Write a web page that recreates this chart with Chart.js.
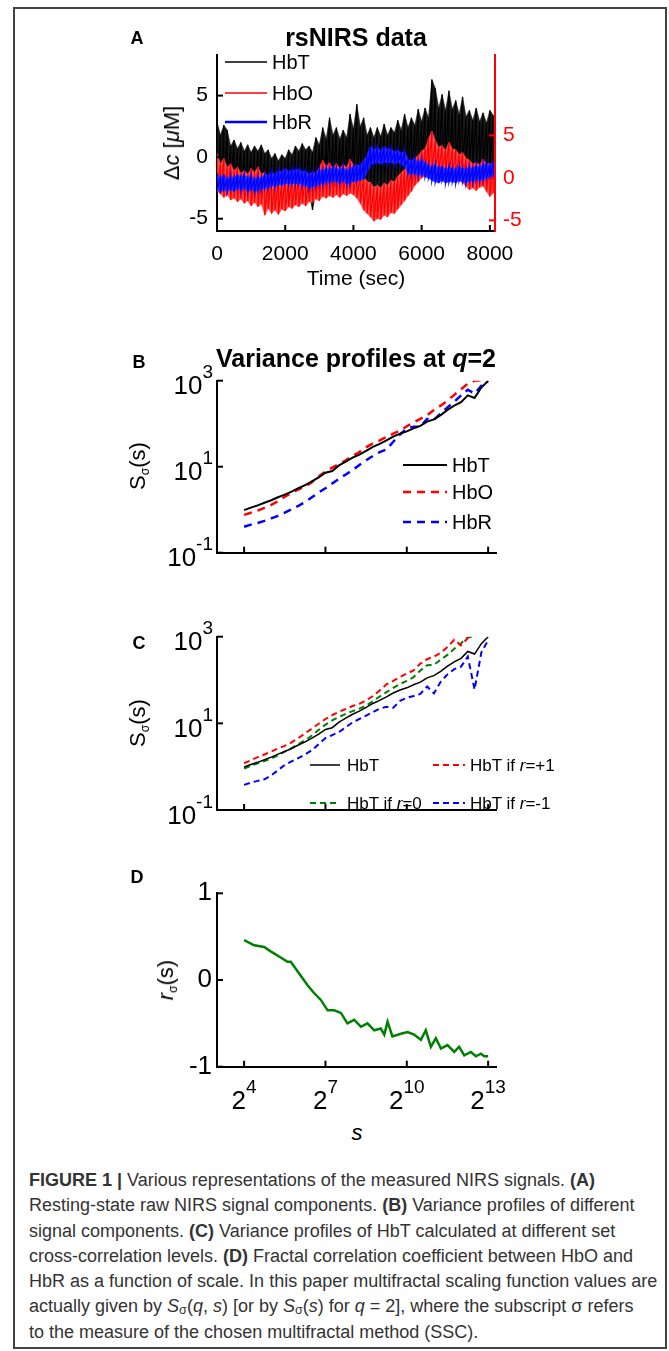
<!DOCTYPE html>
<html>
<head>
<meta charset="utf-8">
<script src="https://cdn.jsdelivr.net/npm/chart.js@4.4.1/dist/chart.umd.min.js"></script>
<style>
html, body { margin: 0; padding: 0; background: #fff; }
#page { position: relative; width: 669px; height: 1351px; overflow: hidden; font-family: "Liberation Sans", Arial, sans-serif; color: #000; }
#frame { position: absolute; left: 13px; top: 7px; width: 654px; height: 1342px; box-sizing: border-box; border: 2px solid #444; }
canvas { position: absolute; left: 0; }
.c, .l, .r { position: absolute; white-space: nowrap; line-height: 1; }
.c { transform: translate(-50%, -50%); }
.l { transform: translate(0, -50%); }
.r { transform: translate(-50%, -50%) rotate(-90deg); font-size: 22px; }
.b { font-weight: bold; }
sub { font-size: 55%; vertical-align: -0.3em; line-height: 0; }
#cap { position: absolute; left: 29px; top: 1168px; font-family: "Liberation Sans Narrow", "Liberation Sans", sans-serif; font-size: 18px; line-height: 25.3px; color: #333; white-space: nowrap; }
#cap sub { font-size: 70%; vertical-align: -0.15em; }
</style>
</head>
<body>
<div id="page">
  <div id="frame"></div>
  <canvas id="chartA"></canvas>
  <canvas id="chartB"></canvas>
  <canvas id="chartC"></canvas>
  <canvas id="chartD"></canvas>

  <div class="c b" style="left:137px;top:38px;font-size:18px">A</div>
  <div class="c b" style="left:356px;top:37px;font-size:25px">rsNIRS data</div>
  <div class="l" style="left:272px;top:62px;font-size:20px">HbT</div>
  <div class="l" style="left:272px;top:93px;font-size:20px">HbO</div>
  <div class="l" style="left:272px;top:122px;font-size:20px">HbR</div>
  <div class="r" style="left:172px;top:143px">Δ<i>c</i> [<i>μ</i>M]</div>
  <div class="c" style="left:356px;top:277px;font-size:21px">Time (sec)</div>

  <div class="c b" style="left:139px;top:362px;font-size:18px">B</div>
  <div class="c b" style="left:356px;top:358px;font-size:25px">Variance profiles at <i>q</i>=2</div>
  <div class="r" style="left:138px;top:466px">S<sub>σ</sub>(s)</div>
  <div class="l" style="left:452px;top:465px;font-size:20px">HbT</div>
  <div class="l" style="left:452px;top:492px;font-size:20px">HbO</div>
  <div class="l" style="left:452px;top:522px;font-size:20px">HbR</div>

  <div class="c b" style="left:139px;top:643px;font-size:18px">C</div>
  <div class="r" style="left:138px;top:723px">S<sub>σ</sub>(s)</div>
  <div class="l" style="left:347px;top:765px;font-size:17px">HbT</div>
  <div class="l" style="left:470px;top:765px;font-size:17px">HbT if <i>r</i>=+1</div>
  <div class="l" style="left:347px;top:803px;font-size:17px">HbT if <i>r</i>=0</div>
  <div class="l" style="left:470px;top:803px;font-size:17px">HbT if <i>r</i>=-1</div>

  <div class="c b" style="left:137px;top:877px;font-size:18px">D</div>
  <div class="r" style="left:166px;top:980px"><i>r</i><sub>σ</sub>(s)</div>
  <div class="c" style="left:357px;top:1133px;font-size:22px"><i>s</i></div>

  <div id="cap"><b>FIGURE 1 |</b> Various representations of the measured NIRS signals. <b>(A)</b><br>Resting-state raw NIRS signal components. <b>(B)</b> Variance profiles of different<br>signal components. <b>(C)</b> Variance profiles of HbT calculated at different set<br>cross-correlation levels. <b>(D)</b> Fractal correlation coefficient between HbO and<br>HbR as a function of scale. In this paper multifractal scaling function values are<br>actually given by <i>S</i><sub>σ</sub>(<i>q</i>, <i>s</i>) [or by <i>S</i><sub>σ</sub>(<i>s</i>) for <i>q</i> = 2], where the subscript σ refers<br>to the measure of the chosen multifractal method (SSC).</div>
</div>

<script>
// Panel A: raw signals, upper and lower edge of each noisy trace (100 s steps)
const timeSec = [0,100,200,300,400,500,600,700,800,900,
  1000,1100,1200,1300,1400,1500,1600,1700,1800,1900,
  2000,2100,2200,2300,2400,2500,2600,2700,2800,2900,
  3000,3100,3200,3300,3400,3500,3600,3700,3800,3900,
  4000,4100,4200,4300,4400,4500,4600,4700,4800,4900,
  5000,5100,5200,5300,5400,5500,5600,5700,5800,5900,
  6000,6100,6200,6300,6400,6500,6600,6700,6800,6900,
  7000,7100,7200,7300,7400,7500,7600,7700,7800,7900,
  8000,8100];

const hbtHi = [2.9,1.8,2.6,2.2,0.9,1.4,0.7,1.2,0.5,1.0,
  0.4,0.9,0.5,1.0,0.3,0.6,-0.1,0.3,-0.3,0.2,
  -0.1,0.6,0.2,0.9,0.5,1.1,0.6,0.9,0.4,1.6,
  1.0,2.4,1.5,3.2,1.8,2.4,1.5,2.2,1.6,3.5,
  2.3,4.3,2.5,3.2,1.8,2.4,1.6,2.4,1.7,2.7,
  1.8,2.4,2.0,3.0,2.2,3.5,2.4,3.2,2.6,3.9,
  2.9,4.0,3.2,6.3,5.6,4.0,5.1,3.8,5.4,3.9,
  4.6,3.5,4.9,3.3,3.8,3.0,4.0,2.9,3.6,2.8,
  3.8,3.4];
const hbtLo = [-2.4,-2.9,-2.5,-2.3,-2.8,-2.6,-2.9,-2.7,-3.0,-2.8,
  -3.1,-2.9,-3.3,-3.0,-3.5,-3.2,-3.6,-4.3,-3.5,-3.8,
  -3.4,-3.6,-3.2,-3.4,-3.1,-3.3,-2.9,-3.0,-4.3,-2.8,
  -2.7,-2.9,-2.5,-2.7,-2.4,-2.6,-2.3,-2.4,-2.1,-2.3,
  -2.0,-2.3,-2.1,-2.6,-2.2,-2.0,-2.8,-2.2,-2.7,-2.1,
  -2.3,-1.9,-2.2,-1.8,-2.0,-1.7,-1.6,-1.3,-1.1,-1.0,
  -1.0,-1.2,-0.9,-1.1,-1.0,-1.2,-0.9,-1.1,-1.0,-1.2,
  -0.9,-1.1,-1.0,-1.2,-0.9,-1.0,-1.1,-0.9,-1.0,-0.8,
  -0.9,-0.8];

// HbO is read on the red right-hand axis
const hboHi = [2.9,1.6,2.3,1.2,1.7,0.8,1.3,0.5,0.9,0.4,
  1.1,0.6,1.3,0.4,0.7,-0.1,0.2,-0.5,-0.2,-0.4,
  0.1,-0.3,0.2,-0.1,0.4,0.0,0.6,0.2,0.7,0.5,
  1.2,2.1,1.3,1.8,1.0,1.7,1.1,1.6,1.2,2.2,
  1.5,0.9,0.5,0.1,-0.4,-0.6,-1.1,-0.9,-1.2,-0.6,
  -0.9,-0.3,-0.5,0.2,0.6,1.0,1.4,1.9,2.3,2.6,
  3.2,3.4,4.6,5.5,4.4,3.6,3.8,3.2,4.2,3.4,
  3.3,2.7,3.0,2.3,2.1,1.6,1.8,1.5,2.2,1.6,
  1.7,1.3];
const hboLo = [-1.5,-1.9,-2.3,-2.0,-2.6,-2.4,-2.8,-2.5,-3.0,-2.7,
  -3.3,-2.9,-3.4,-3.1,-4.4,-3.6,-4.2,-3.8,-4.3,-3.7,
  -3.9,-3.4,-3.6,-3.2,-3.4,-3.0,-3.3,-2.8,-2.9,-2.5,
  -2.7,-2.2,-2.4,-2.1,-2.3,-2.0,-2.3,-1.9,-2.1,-1.8,
  -2.0,-2.4,-3.0,-3.8,-4.2,-4.6,-5.1,-4.8,-4.9,-4.4,
  -4.6,-4.1,-4.2,-3.7,-3.2,-2.7,-2.1,-1.6,-0.9,-0.5,
  0.0,0.2,0.5,0.7,0.9,0.7,1.0,0.6,0.5,0.3,
  0.1,-0.3,-0.6,-1.0,-1.4,-1.2,-1.5,-1.1,-1.0,-1.6,
  -2.2,-1.8];

const hbrHi = [-1.3,-1.7,-1.4,-1.8,-1.5,-1.7,-1.4,-1.6,-1.4,-1.7,
  -1.5,-1.8,-1.6,-1.7,-1.4,-1.5,-1.2,-1.4,-1.1,-1.2,
  -0.9,-1.2,-1.0,-1.1,-0.9,-1.2,-1.1,-1.4,-1.2,-1.3,
  -1.0,-1.1,-0.9,-1.0,-0.8,-0.9,-1.0,-0.8,-1.1,-0.9,
  -0.8,-0.6,-0.7,-0.3,0.2,0.9,0.6,0.8,0.5,0.9,
  0.6,0.7,0.4,0.6,0.3,0.5,-0.2,-0.3,-0.1,-0.4,
  -0.2,-0.5,-0.6,-0.8,-0.6,-0.9,-0.7,-1.0,-0.8,-0.9,
  -1.0,-0.8,-0.9,-1.0,-0.8,-0.9,-0.7,-0.8,-0.6,-0.5,
  -0.7,-0.4];
const hbrLo = [-2.6,-2.9,-2.6,-2.8,-2.6,-2.8,-2.5,-2.7,-2.5,-2.8,
  -2.6,-2.8,-2.7,-2.6,-2.5,-2.5,-2.3,-2.4,-2.2,-2.3,
  -2.1,-2.2,-2.1,-2.2,-2.1,-2.3,-2.3,-2.5,-2.4,-2.3,
  -2.2,-2.2,-2.0,-2.1,-1.9,-2.0,-2.1,-1.9,-2.2,-2.1,
  -2.0,-1.9,-1.9,-1.8,-1.2,-0.6,-0.5,-0.4,-0.6,-0.4,
  -0.5,-0.4,-0.6,-0.4,-0.6,-0.7,-1.3,-1.4,-1.3,-1.5,
  -1.4,-1.6,-1.7,-1.9,-2.0,-2.1,-1.9,-2.1,-2.0,-2.0,
  -2.1,-1.9,-2.0,-2.1,-1.9,-2.0,-1.8,-1.9,-1.8,-1.7,
  -1.8,-1.6];

// Panels B and C: variance profiles, scale given as log2(s)
const scaleExp = [4,4.25,4.5,4.75,5,5.25,5.5,5.75,6,6.25,6.5,6.75,7,7.25,7.5,7.75,8,8.25,8.5,8.75,
  9,9.25,9.5,9.75,10,10.25,10.5,10.75,11,11.25,11.5,11.75,12,12.25,12.5,12.75,13];
const varHbT = [0.98,1.12,1.26,1.45,1.66,1.95,2.24,2.63,3.16,3.72,4.57,5.62,7.24,7.94,10.7,13.2,16.2,19.1,23.4,28.8,
  33.9,40.7,50.1,58.9,66.1,77.6,89.1,112,126,158,209,263,316,457,398,692,1000];
const varHbO = [0.76,0.85,0.95,1.10,1.29,1.58,2.00,2.45,2.95,3.47,4.37,5.89,7.76,9.55,11.5,14.1,17.8,21.9,28.2,34.7,
  40.7,49.0,58.9,69.2,87.1,107,129,158,209,263,347,468,631,851,1000,1023,933];
const varHbR = [0.40,0.45,0.49,0.55,0.63,0.72,0.85,1.02,1.23,1.51,1.95,2.51,3.16,4.07,5.25,6.61,8.32,11.0,14.1,17.8,
  21.9,25.1,38.0,56.2,77.6,85.1,85.1,129,123,174,240,324,457,617,501,759,871];
const varRplus = [1.20,1.41,1.66,1.91,2.24,2.63,3.02,3.63,4.57,5.89,7.59,9.77,12.6,15.5,18.6,21.4,25.1,28.2,33.9,42.7,
  57.5,79.4,95.5,117,141,166,240,302,347,427,575,851,631,933,1200,1410,1580];
const varRzero = [0.91,1.05,1.20,1.35,1.55,1.82,2.24,2.69,3.31,4.07,5.25,7.08,9.33,11.7,14.1,16.6,19.1,21.9,25.7,32.4,
  41.7,52.5,66.1,81.3,95.5,117,166,219,224,295,380,525,708,977,1000,1200,1320];
const varRminus = [0.38,0.43,0.47,0.51,0.63,0.83,1.10,1.32,1.58,1.91,2.40,3.31,4.57,5.37,6.31,8.13,10.5,12.6,15.1,18.2,
  21.9,24.0,22.9,33.1,38.9,42.7,47.9,70.8,49.0,91.2,135,178,204,347,60.3,437,832];

// Panel D: fractal correlation coefficient
const corrExp = [4.00,4.37,4.74,4.98,5.35,5.60,5.72,5.97,6.34,6.58,6.83,7.08,7.32,7.57,7.81,8.06,8.31,8.55,8.80,9.04,
  9.17,9.29,9.47,9.78,10.03,10.27,10.52,10.70,10.89,11.07,11.26,11.50,11.75,11.93,12.12,12.36,12.55,12.73,12.86,13.00];
const corrVal = [0.46,0.40,0.38,0.33,0.26,0.21,0.21,0.10,-0.06,-0.15,-0.23,-0.35,-0.35,-0.38,-0.50,-0.46,-0.54,-0.50,-0.58,-0.56,
  -0.63,-0.48,-0.65,-0.62,-0.60,-0.63,-0.69,-0.58,-0.77,-0.67,-0.79,-0.75,-0.83,-0.77,-0.87,-0.83,-0.88,-0.85,-0.88,-0.88];

// tick values
const timeTicks = [0, 2000, 4000, 6000, 8000];
const concTicks = [-5, 0, 5];
const varTicks = [0.1, 10, 1000];
const expTicks = [4, 7, 10, 13];
const corrTicks = [-1, 0, 1];

const FONT = '"Liberation Sans", Arial, sans-serif';
const RED = '#ff0000', BLUE = '#0000ff', GREEN = '#008000';
const W = 669, YW = 60, Y2W = 40, XH = 40, TICK = 6;
Chart.defaults.font.family = FONT;

function pts(xs, ys) { return ys.map((v, i) => ({ x: xs[i], y: v })); }

// a dense noisy trace: a filled band between the edges with a zig-zag line on top of it
function trace(hi, lo, color, bandColor, axis, order, width) {
  const zig = [];
  timeSec.forEach((t, i) => {
    zig.push({ x: t, y: hi[i] });
    zig.push({ x: t, y: lo[i] });
  });
  return [
    { data: zig, borderColor: color, borderWidth: width, pointRadius: 0, fill: false, yAxisID: axis, order: order },
    { data: pts(timeSec, hi), borderColor: bandColor, backgroundColor: bandColor, borderWidth: 0.6, pointRadius: 0, fill: '+1', yAxisID: axis, order: order },
    { data: pts(timeSec, lo), borderColor: bandColor, borderWidth: 0.6, pointRadius: 0, fill: false, yAxisID: axis, order: order }
  ];
}

function curve(ys, xs, color, width, dash) {
  return { data: pts(xs, ys), borderColor: color, borderWidth: width, borderDash: dash || [], pointRadius: 0, fill: false };
}

function axis(pos, tickVals, color, extra) {
  const horizontal = pos === 'bottom';
  return Object.assign({
    position: pos,
    grid: { display: false, drawTicks: false },
    border: { display: true, color: color, width: 2 },
    ticks: { color: color, font: { size: 21 }, padding: 9, callback: v => String(v) },
    afterBuildTicks: s => { s.ticks = tickVals.map(v => ({ value: v })); },
    afterFit: s => { if (horizontal) s.height = XH; else s.width = pos === 'right' ? Y2W : YW; }
  }, extra);
}

function powLabel(ctx, base, exp, x, y, align, bs, es) {
  ctx.font = bs + 'px ' + FONT;
  const bw = ctx.measureText(base).width;
  ctx.font = es + 'px ' + FONT;
  const ew = ctx.measureText(exp).width;
  const x0 = align === 'right' ? x - bw - ew : x - (bw + ew) / 2;
  ctx.fillStyle = '#000';
  ctx.textAlign = 'left';
  ctx.textBaseline = 'middle';
  ctx.font = bs + 'px ' + FONT;
  ctx.fillText(base, x0, y + bs * 0.25);
  ctx.font = es + 'px ' + FONT;
  ctx.fillText(exp, x0 + bw, y - es * 0.4);
}

// inward tick marks, 10^n / 2^n labels and legend samples
const deco = {
  id: 'deco',
  afterDraw(chart, args, opts) {
    const ctx = chart.ctx, a = chart.chartArea;
    ctx.save();
    Object.values(chart.scales).forEach(sc => {
      ctx.strokeStyle = sc.options.border.color;
      ctx.lineWidth = 2;
      ctx.setLineDash([]);
      sc.ticks.forEach(t => {
        const p = sc.getPixelForValue(t.value);
        ctx.beginPath();
        if (sc.isHorizontal()) { ctx.moveTo(p, a.bottom); ctx.lineTo(p, a.bottom - TICK); }
        else if (sc.position === 'right') { ctx.moveTo(a.right, p); ctx.lineTo(a.right - TICK, p); }
        else { ctx.moveTo(a.left, p); ctx.lineTo(a.left + TICK, p); }
        ctx.stroke();
      });
    });
    if (opts.powY) {
      const sc = chart.scales.y;
      sc.ticks.forEach(t => {
        powLabel(ctx, '10', String(Math.round(Math.log10(t.value))), a.left - 4, sc.getPixelForValue(t.value), 'right', 26, 19);
      });
    }
    if (opts.powX) {
      const sc = chart.scales.x;
      sc.ticks.forEach(t => {
        powLabel(ctx, '2', String(t.value), sc.getPixelForValue(t.value), a.bottom + 28.5, 'center', 26, 19);
      });
    }
    (opts.samples || []).forEach(s => {
      ctx.strokeStyle = s.color;
      ctx.lineWidth = s.width;
      ctx.setLineDash(s.dash || []);
      ctx.beginPath();
      ctx.moveTo(s.x1, s.y - opts.top);
      ctx.lineTo(s.x2, s.y - opts.top);
      ctx.stroke();
    });
    ctx.restore();
  }
};

function makeChart(id, top, height, area, datasets, scales, decoOpts, hasY2) {
  const cv = document.getElementById(id);
  cv.width = W;
  cv.height = height;
  cv.style.top = top + 'px';
  decoOpts.top = top;
  return new Chart(cv, {
    type: 'line',
    data: { datasets: datasets },
    options: {
      responsive: false,
      animation: false,
      events: [],
      layout: {
        autoPadding: false,
        padding: {
          left: area.l - YW,
          right: W - area.r - (hasY2 ? Y2W : 0),
          top: area.t - top,
          bottom: top + height - area.b - XH
        }
      },
      plugins: { legend: { display: false }, tooltip: { enabled: false }, deco: decoOpts },
      scales: scales
    },
    plugins: [deco]
  });
}

// A
const chartA = makeChart('chartA', 0, 300, { l: 217, r: 495, t: 55, b: 231 },
  [].concat(
    trace(hbrHi, hbrLo, BLUE, '#2b2bff', 'y', 1, 1.4),
    trace(hboHi, hboLo, RED, '#ff4a4a', 'y2', 2, 1.2),
    trace(hbtHi, hbtLo, '#000', '#1c1c1c', 'y', 3, 1.2)
  ),
  {
    x: axis('bottom', timeTicks, '#000', { type: 'linear', min: 0, max: 8150 }),
    y: axis('left', concTicks, '#000', { type: 'linear', min: -6, max: 8.3 }),
    y2: axis('right', concTicks, RED, { type: 'linear', min: -6.25, max: 14.45 })
  },
  { samples: [
    { x1: 225, x2: 267, y: 62, color: '#000', width: 1.5 },
    { x1: 225, x2: 267, y: 93, color: RED, width: 1.5 },
    { x1: 225, x2: 267, y: 122, color: BLUE, width: 2.5 }
  ] }, true);
chartA.options.scales.x.ticks.padding = 11;
chartA.options.scales.y2.ticks.padding = 8;
chartA.update();

const logY = { type: 'logarithmic', min: 0.1, max: 1000 };
const expX = { type: 'linear', min: 3, max: 13.29 };

// B
makeChart('chartB', 340, 260, { l: 217, r: 496, t: 380.7, b: 552.7 },
  [curve(varHbT, scaleExp, '#000', 2), curve(varHbO, scaleExp, RED, 2.5, [8, 6]), curve(varHbR, scaleExp, BLUE, 2.5, [8, 6])],
  {
    x: axis('bottom', expTicks, '#000', Object.assign({}, expX, { ticks: { display: false } })),
    y: axis('left', varTicks, '#000', Object.assign({}, logY, { ticks: { display: false } }))
  },
  { powY: true, samples: [
    { x1: 403, x2: 447, y: 465, color: '#000', width: 2 },
    { x1: 403, x2: 447, y: 492, color: RED, width: 2.5, dash: [8, 6] },
    { x1: 403, x2: 447, y: 522, color: BLUE, width: 2.5, dash: [8, 6] }
  ] }, false);

// C
makeChart('chartC', 600, 260, { l: 217, r: 496, t: 636.7, b: 810 },
  [curve(varHbT, scaleExp, '#000', 1.5), curve(varRplus, scaleExp, RED, 2, [6, 4]),
   curve(varRzero, scaleExp, GREEN, 2, [6, 4]), curve(varRminus, scaleExp, BLUE, 2, [6, 4])],
  {
    x: axis('bottom', expTicks, '#000', Object.assign({}, expX, { ticks: { display: false } })),
    y: axis('left', varTicks, '#000', Object.assign({}, logY, { ticks: { display: false } }))
  },
  { powY: true, samples: [
    { x1: 310, x2: 340, y: 765, color: '#000', width: 1.5 },
    { x1: 433, x2: 465, y: 765, color: RED, width: 2, dash: [6, 4] },
    { x1: 310, x2: 340, y: 803, color: GREEN, width: 2, dash: [6, 4] },
    { x1: 433, x2: 465, y: 803, color: BLUE, width: 2, dash: [6, 4] }
  ] }, false);

// D
makeChart('chartD', 860, 260, { l: 217, r: 496, t: 893.3, b: 1066.7 },
  [curve(corrVal, corrExp, GREEN, 2.5)],
  {
    x: axis('bottom', expTicks, '#000', Object.assign({}, expX, { ticks: { display: false } })),
    y: axis('left', corrTicks, '#000', { type: 'linear', min: -1, max: 1, ticks: { color: '#000', font: { size: 26 }, padding: 5, callback: v => String(v) } })
  },
  { powX: true, samples: [] }, false);
</script>
</body>
</html>
